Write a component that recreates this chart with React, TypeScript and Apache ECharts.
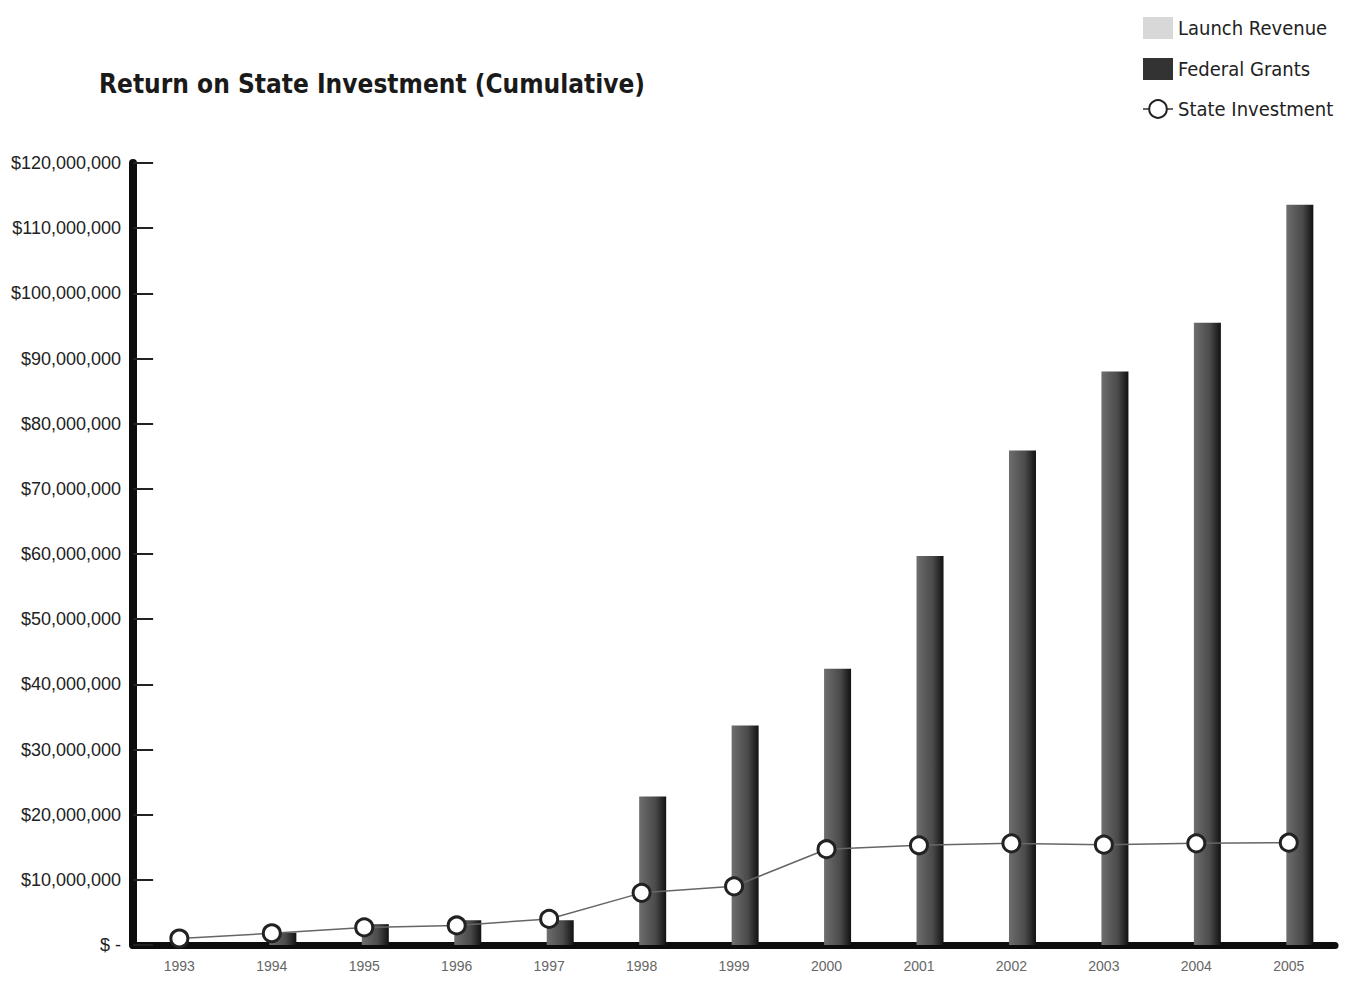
import React, { useEffect, useRef } from "react";
import * as echarts from "echarts";

const years = ["1993","1994","1995","1996","1997","1998","1999","2000","2001","2002","2003","2004","2005"];
const launchRevenue = [0,0,0,0,0,0,0,0,0,0,0,0,0];
const federalGrants = [0,1900000,3200000,3800000,3800000,22800000,33700000,42400000,59700000,75900000,88000000,95500000,113600000];
const stateInvestment = [1000000,1800000,2700000,3000000,4000000,8000000,9000000,14700000,15300000,15600000,15400000,15600000,15700000];

const FONT = "'DejaVu Sans Condensed', 'DejaVu Sans', sans-serif";
const NARROW = "'Liberation Sans Narrow', 'Liberation Sans', Arial, sans-serif";

export default function App() {
  const ref = useRef<HTMLDivElement>(null);
  useEffect(() => {
    if (!ref.current) return;
    const chart = echarts.init(ref.current, null, { renderer: "svg" });
    chart.setOption({
      animation: false,
      backgroundColor: "#ffffff",
      title: {
        text: "Return on State Investment (Cumulative)",
        left: 86,
        top: 58,
        textStyle: { fontFamily: FONT, fontSize: 26, fontWeight: "bold", color: "#1a1a1a" },
      },
      legend: {
        orient: "vertical",
        left: 1129,
        top: 4,
        itemGap: 19,
        itemWidth: 30,
        itemHeight: 22,
        textStyle: { fontFamily: FONT, fontSize: 20, color: "#222" },
        data: [
          { name: "Launch Revenue", icon: "rect", itemStyle: { color: "#d8d8d8" } },
          { name: "Federal Grants", icon: "rect", itemStyle: { color: "#333" } },
          { name: "State Investment" },
        ],
      },
      grid: { left: 119, right: 10, top: 155, bottom: 31, containLabel: false },
      xAxis: {
        type: "category",
        data: years,
        axisLine: { lineStyle: { color: "#0d0d0d", width: 7 } },
        axisTick: { show: false },
        axisLabel: { fontFamily: NARROW, fontSize: 14, color: "#666", margin: 14 },
      },
      yAxis: {
        type: "value",
        min: 0,
        max: 120000000,
        interval: 10000000,
        splitLine: { show: false },
        axisLine: { show: true, lineStyle: { color: "#0d0d0d", width: 8 } },
        axisTick: { show: true, inside: true, length: 20, lineStyle: { color: "#222", width: 2 } },
        axisLabel: {
          fontFamily: NARROW,
          fontSize: 18,
          color: "#222",
          margin: 12,
          formatter: (v: number) => (v === 0 ? "$ -" : "$" + v.toLocaleString("en-US")),
        },
      },
      series: [
        {
          name: "Launch Revenue",
          type: "bar",
          data: launchRevenue,
          barWidth: 27,
          barGap: "-18%",
          itemStyle: { color: "#d8d8d8" },
        },
        {
          name: "Federal Grants",
          type: "bar",
          data: federalGrants,
          barWidth: 27,
          itemStyle: {
            color: new echarts.graphic.LinearGradient(0, 0, 1, 0, [
              { offset: 0, color: "#6e6e6e" },
              { offset: 0.6, color: "#4a4a4a" },
              { offset: 1, color: "#111111" },
            ]),
          },
        },
        {
          name: "State Investment",
          type: "line",
          data: stateInvestment,
          symbol: "circle",
          symbolSize: 17,
          lineStyle: { color: "#666", width: 1.5 },
          itemStyle: { color: "#ffffff", borderColor: "#222", borderWidth: 3 },
          z: 5,
        },
      ],
    });
    return () => chart.dispose();
  }, []);
  return <div ref={ref} style={{ width: 1337, height: 968 }} />;
}
